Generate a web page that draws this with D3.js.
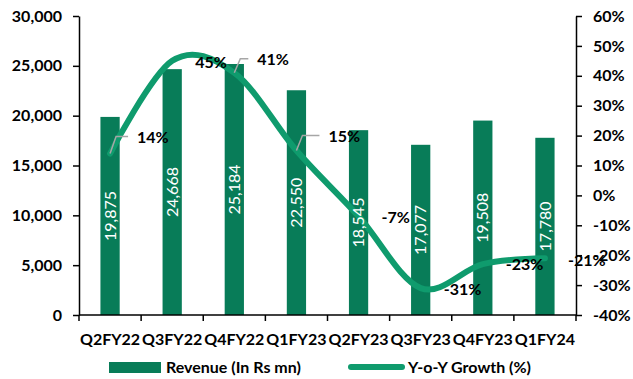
<!DOCTYPE html>
<html>
<head>
<meta charset="utf-8">
<script src="https://cdn.jsdelivr.net/npm/d3@7"></script>
<style>
  html, body { margin: 0; padding: 0; background: #fff; }
  svg { display: block; font-family: Lato, "Open Sans", sans-serif; }
</style>
</head>
<body>
<svg id="chart" width="633" height="379"></svg>
<script>
const categories = ["Q2FY22", "Q3FY22", "Q4FY22", "Q1FY23", "Q2FY23", "Q3FY23", "Q4FY23", "Q1FY24"];
const revenue = [19875, 24668, 25184, 22550, 18545, 17077, 19508, 17780];
const growth = [14, 45, 41, 15, -7, -31, -23, -21];
const leftTicks = [0, 5000, 10000, 15000, 20000, 25000, 30000];
const rightTicks = [-40, -30, -20, -10, 0, 10, 20, 30, 40, 50, 60];
const legendLabels = ["Revenue (In Rs mn)", "Y-o-Y Growth (%)"];

// label layout (offsets from the point, in px) and leader-line flags
const growthLabelShift = [[27, -16], [23, 2], [23, -13], [32, -14], [23, 1], [23, 1], [23, 0], [23, 2]];
const growthLeader = [true, false, true, true, false, false, false, false];

const barColor = "#087c58";
const lineColor = "#0f9b6d";

const svg = d3.select("#chart");
const m = { left: 79, right: 576, top: 16, bottom: 315 };

const x = d3.scaleBand().domain(categories).range([m.left, m.right]).paddingInner(0.69).paddingOuter(0.345);
const xOuter = d3.scaleBand().domain(categories).range([m.left, m.right]);
const yL = d3.scaleLinear().domain([0, 30000]).range([m.bottom, m.top]);
const yR = d3.scaleLinear().domain([-40, 60]).range([m.bottom, m.top]);

// bars
svg.append("g").selectAll("rect").data(revenue).join("rect")
  .attr("x", (d, i) => x(categories[i]))
  .attr("width", x.bandwidth())
  .attr("y", d => yL(d))
  .attr("height", d => yL(0) - yL(d))
  .attr("fill", barColor);

// axes
const axisStyle = g => {
  g.selectAll("path.domain").attr("stroke", "#000").attr("stroke-width", 1.5);
  g.selectAll(".tick line").attr("stroke", "#000").attr("stroke-width", 1.5);
  g.selectAll("text").attr("fill", "#000").style("font-size", "16px").style("font-weight", "bold")
    .style("font-family", "Lato, sans-serif");
};

svg.append("g").attr("transform", `translate(${m.left},0)`)
  .call(d3.axisLeft(yL).tickValues(leftTicks).tickFormat(d3.format(",")).tickSize(6).tickSizeOuter(0).tickPadding(11))
  .call(axisStyle);

svg.append("g").attr("transform", `translate(${m.right},0)`)
  .call(d3.axisRight(yR).tickValues(rightTicks).tickFormat(d => d + "%").tickSize(6).tickSizeOuter(0).tickPadding(11))
  .call(axisStyle);

// bottom axis: ticks at category boundaries
const xg = svg.append("g").attr("transform", `translate(0,${m.bottom})`);
xg.append("line").attr("x1", m.left).attr("x2", m.right).attr("stroke", "#000").attr("stroke-width", 1.5);
xg.selectAll("line.tk").data(categories.concat(["__end"])).join("line").attr("class", "tk")
  .attr("x1", (d, i) => i < categories.length ? xOuter(d) : m.right)
  .attr("x2", (d, i) => i < categories.length ? xOuter(d) : m.right)
  .attr("y1", 0).attr("y2", 6).attr("stroke", "#000").attr("stroke-width", 1.5);
xg.selectAll("text").data(categories).join("text")
  .attr("x", d => xOuter(d) + xOuter.bandwidth() / 2)
  .attr("y", 24).attr("dy", "0.35em")
  .attr("text-anchor", "middle")
  .style("font-size", "16px").style("font-weight", "bold")
  .text(d => d);

// growth line
const pts = growth.map((g, i) => [x(categories[i]) + x.bandwidth() / 2, yR(g)]);
svg.append("path")
  .attr("d", d3.line().curve(d3.curveCardinal.tension(0))(pts))
  .attr("fill", "none").attr("stroke", lineColor).attr("stroke-width", 6)
  .attr("stroke-linecap", "round").attr("stroke-linejoin", "round");

// bar labels (drawn above the line, as data labels are)
svg.append("g").selectAll("text").data(revenue).join("text")
  .attr("transform", (d, i) => {
    const cx = x(categories[i]) + x.bandwidth() / 2;
    const cy = (yL(d) + yL(0)) / 2;
    return `translate(${cx},${cy}) rotate(-90)`;
  })
  .attr("text-anchor", "middle")
  .attr("dy", "0.35em")
  .attr("fill", "#fff")
  .style("font-size", "16px")
  .text(d => d3.format(",")(d));

// growth labels
const gl = svg.append("g");
growth.forEach((g, i) => {
  const [px, py] = pts[i];
  const [dx, dy] = growthLabelShift[i];
  const lx = px + dx, ly = py + dy;
  if (growthLeader[i]) {
    gl.append("polyline")
      .attr("points", `${px},${py} ${px + 6},${ly - 1} ${lx - 9},${ly - 1}`)
      .attr("fill", "none").attr("stroke", "#a6a6a6").attr("stroke-width", 1.5);
  }
  gl.append("text").attr("x", lx).attr("y", ly).attr("dy", "0.35em")
    .style("font-size", "16px").style("font-weight", "bold").attr("fill", "#000")
    .text(g + "%");
});

// legend
const lg = svg.append("g");
lg.append("rect").attr("x", 109).attr("y", 362).attr("width", 52).attr("height", 11).attr("fill", barColor);
lg.append("text").attr("x", 166).attr("y", 367).attr("dy", "0.35em")
  .style("font-size", "16px").style("font-weight", "bold").text(legendLabels[0]);
lg.append("line").attr("x1", 351).attr("x2", 402).attr("y1", 367).attr("y2", 367)
  .attr("stroke", lineColor).attr("stroke-width", 6).attr("stroke-linecap", "round");
lg.append("text").attr("x", 408).attr("y", 367).attr("dy", "0.35em")
  .style("font-size", "16px").style("font-weight", "bold").text(legendLabels[1]);
</script>
</body>
</html>
